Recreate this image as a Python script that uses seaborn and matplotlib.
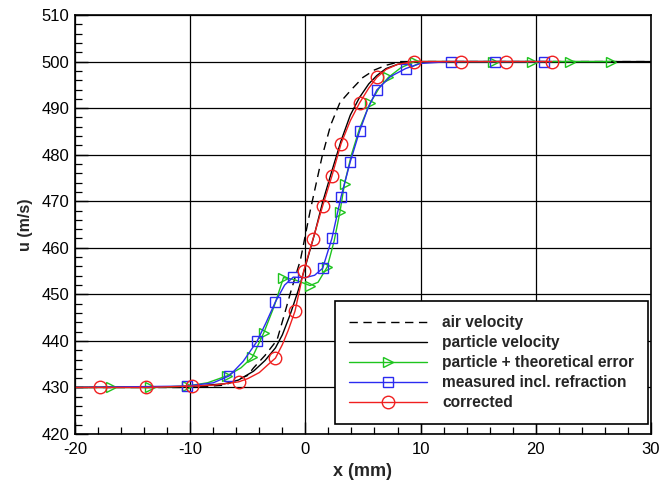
import matplotlib
matplotlib.use("Agg")
import matplotlib.pyplot as plt
import seaborn as sns
from matplotlib.ticker import MultipleLocator

# --- data (x in mm, u in m/s) ---
air_x = [-20, -10, -7, -5, -4.5, -3.5, -2.46, -1.9, -1.3, -0.43, 0.43, 1.45, 2.2, 3.0, 4.0, 5.0, 6.0, 7.0, 8.2, 10, 30]
air_u = [430, 430, 430.5, 432.6, 434.2, 436.9, 440.2, 445, 450.3, 457.4, 468.1, 479.6, 486.4, 491.2, 494, 496.6, 498.2, 499.2, 500, 500, 500]

part_x = [-20, -10, -7, -5.8, -4.5, -3.5, -2.6, -2, -1.3, -0.6, 0, 0.8, 1.5, 2.3, 3.1, 3.9, 4.7, 5.5, 6.2, 7, 8, 9.4, 30]
part_u = [430, 430.2, 430.8, 431.6, 433.5, 435.8, 438.5, 441.3, 445.8, 451, 456, 463, 469.8, 476.5, 483, 488.5, 492.3, 495.2, 497, 498.5, 499.4, 500, 500]

theo_x = [-20, -16.9, -13.5, -10.3, -8.5, -6.8, -5.6, -4.6, -3.6, -2.7, -1.9, -1, 0.4, 1.1, 1.9, 2.5, 3.0, 3.4, 4.0, 4.7, 5.6, 6.4, 7.2, 8.3, 9.5, 12.5, 16.3, 19.7, 23.0, 26.5]
theo_u = [430, 430, 430, 430.3, 431, 432.5, 434.2, 436.5, 441.8, 447.5, 453.6, 453.2, 451.9, 452.6, 455.9, 461.5, 467.7, 473.8, 480, 485.6, 491, 494.3, 496.6, 498.7, 500, 500, 500, 500, 500, 500]
theo_marks = [1, 2, 3, 5, 7, 8, 10, 12, 14, 16, 17, 20, 22, 24, 26, 27, 28, 29]

meas_x = [-20, -10.3, -8, -6.6, -5.4, -4.2, -3.4, -2.6, -1.8, -1.05, 0, 0.8, 1.5, 2.3, 3.1, 3.9, 4.7, 5.4, 6.2, 7.4, 8.7, 10, 12.6, 16.5, 20.7]
meas_u = [430, 430.3, 431, 432.5, 435.6, 439.9, 444, 448.4, 452, 453.7, 453.6, 454.1, 455.6, 462, 471, 478.5, 485, 489.8, 493.9, 496.8, 498.5, 499.6, 500, 500, 500]
meas_marks = [1, 3, 5, 7, 9, 12, 13, 14, 15, 16, 18, 20, 22, 23, 24]

corr_x = [-20, -17.8, -13.8, -9.8, -8, -7, -5.8, -5, -4, -3.2, -2.6, -2, -1.5, -0.9, -0.15, 0.65, 1.5, 2.3, 3.1, 3.9, 4.7, 5.5, 6.2, 7, 8, 9.4, 13.5, 17.4, 21.4]
corr_u = [430, 430, 430, 430.3, 430.5, 430.8, 431.2, 431.9, 433.2, 435, 436.3, 439.2, 442.2, 446.4, 455, 461.8, 469, 475.4, 482.4, 487.3, 491.1, 494.3, 496.6, 498.3, 499.4, 500, 500, 500, 500]
corr_marks = [1, 2, 3, 6, 10, 13, 14, 15, 16, 17, 18, 20, 22, 25, 26, 27, 28]

sns.set_style("ticks")
plt.rcParams["font.family"] = ["Liberation Sans", "DejaVu Sans"]
plt.rcParams["axes.unicode_minus"] = False

fig = plt.figure(figsize=(6.59, 4.83), dpi=100)
ax = fig.add_axes([0.1138, 0.1014, 0.8740, 0.8675])

sns.lineplot(x=air_x, y=air_u, ax=ax, color="black", lw=1.0, dashes=False,
             linestyle=(0, (6, 4)), label="air velocity", sort=False)
sns.lineplot(x=part_x, y=part_u, ax=ax, color="black", lw=1.0,
             label="particle velocity", sort=False)
sns.lineplot(x=theo_x, y=theo_u, ax=ax, color="#1ec41e", lw=1.0, marker=">",
             markevery=theo_marks, ms=7, mfc="none", mec="#1ec41e", mew=1.0,
             label="particle + theoretical error", sort=False)
sns.lineplot(x=meas_x, y=meas_u, ax=ax, color="#2b2bf0", lw=1.0, marker="s",
             markevery=meas_marks, ms=6.5, mfc="none", mec="#2b2bf0", mew=1.0,
             label="measured incl. refraction", sort=False)
sns.lineplot(x=corr_x, y=corr_u, ax=ax, color="#f02020", lw=1.0, marker="o",
             markevery=corr_marks, ms=9, mfc="none", mec="#f02020", mew=1.0,
             label="corrected", sort=False)

ax.set_xlim(-20, 30)
ax.set_ylim(420, 510)
ax.xaxis.set_major_locator(MultipleLocator(10))
ax.xaxis.set_minor_locator(MultipleLocator(2))
ax.yaxis.set_major_locator(MultipleLocator(10))
ax.yaxis.set_minor_locator(MultipleLocator(2))
ax.tick_params(which="both", direction="in", top=False, right=False, colors="black")
ax.tick_params(axis="x", which="major", length=9, width=1.0, pad=6, labelsize=12)
ax.tick_params(axis="y", which="major", length=9, width=1.0, pad=4, labelsize=12)
ax.tick_params(which="minor", length=5, width=0.9)
ax.grid(True, which="major", color="black", lw=0.9)
ax.set_axisbelow(True)
for s in ax.spines.values():
    s.set_color("black")
    s.set_linewidth(1.2)

ax.set_xlabel("x (mm)", fontsize=13, fontweight="bold", labelpad=4)
ax.set_ylabel("u (m/s)", fontsize=11.5, fontweight="bold", labelpad=6)

leg = ax.legend(loc="lower right", bbox_to_anchor=(0.995, 0.024), borderaxespad=0,
                fancybox=False, framealpha=1, edgecolor="black", handlelength=5.0,
                handletextpad=1.0, labelspacing=0.32, borderpad=0.9, numpoints=1,
                prop={"weight": "bold", "size": 11.2})
leg.get_frame().set_linewidth(1.2)

fig.savefig("out.png", dpi=100)
